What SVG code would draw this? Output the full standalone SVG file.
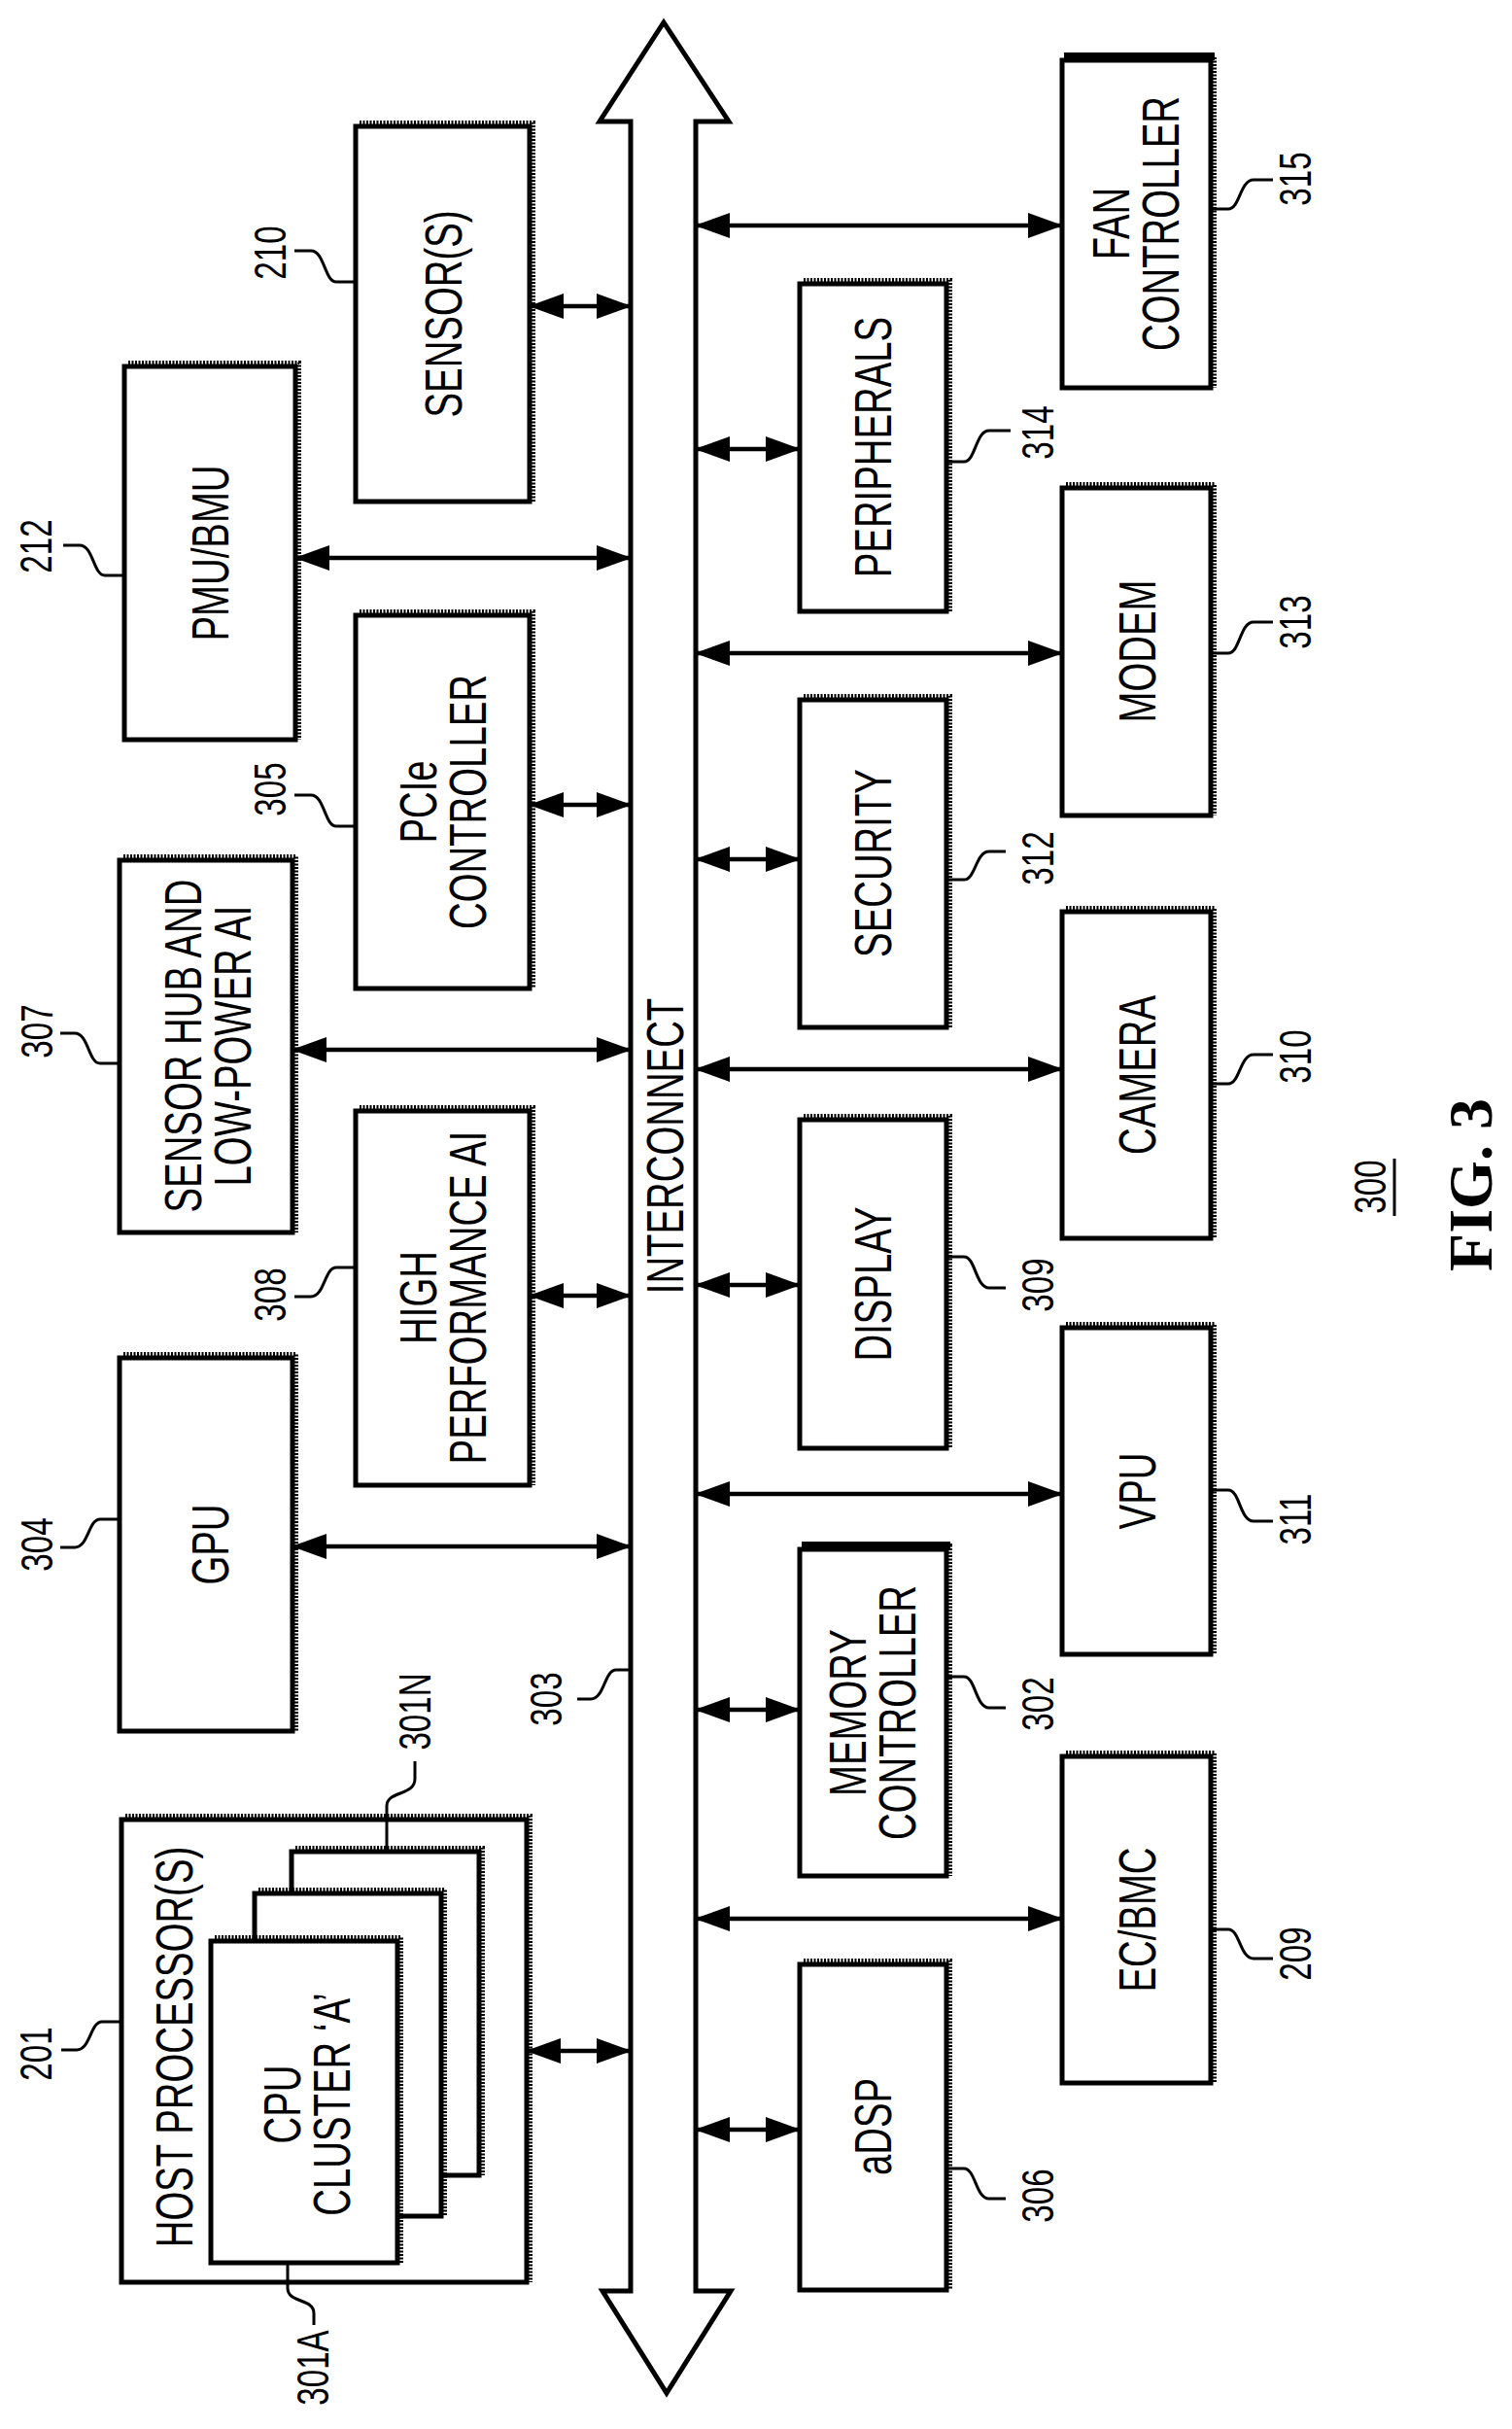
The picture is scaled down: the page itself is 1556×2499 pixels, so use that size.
<svg xmlns="http://www.w3.org/2000/svg" width="1556" height="2499" viewBox="0 0 1556 2499">
<style>
.b{fill:#fff;stroke:#000;stroke-width:5}
.sh{fill:none;stroke:#000;stroke-width:4;stroke-dasharray:2 1.5}
.t{font-family:"Liberation Sans",Arial,sans-serif;font-size:54px;text-anchor:middle;fill:#000}
.n{font-family:"Liberation Sans",Arial,sans-serif;font-size:46px;text-anchor:middle;fill:#000}
.l{fill:none;stroke:#000;stroke-width:3}
.c{fill:none;stroke:#000;stroke-width:4.5}
</style>
<defs>
<marker id="ah" markerUnits="userSpaceOnUse" markerWidth="36" markerHeight="26" refX="35" refY="13" orient="auto-start-reverse"><path d="M0,0 L36,13 L0,26 Z" fill="#000"/></marker>
</defs>
<rect width="1556" height="2499" fill="#fff"/>
<g id="interconnect">
<path d="M649,2357 L649,125 L617,125 L683,23 L750,125 L716,125 L716,2357 L752,2357 L686,2462 L620,2357 Z" fill="#fff" stroke="#000" stroke-width="5" stroke-linejoin="miter"/>
<text class="t" transform="translate(684,1179) rotate(-90) scale(0.71,1)" y="19">INTERCONNECT</text>
</g>
<g id="connectors">
<line class="c" x1="545" y1="315" x2="649" y2="315" marker-start="url(#ah)" marker-end="url(#ah)"/>
<line class="c" x1="304" y1="574" x2="649" y2="574" marker-start="url(#ah)" marker-end="url(#ah)"/>
<line class="c" x1="545" y1="828" x2="649" y2="828" marker-start="url(#ah)" marker-end="url(#ah)"/>
<line class="c" x1="301" y1="1080" x2="649" y2="1080" marker-start="url(#ah)" marker-end="url(#ah)"/>
<line class="c" x1="545" y1="1333" x2="649" y2="1333" marker-start="url(#ah)" marker-end="url(#ah)"/>
<line class="c" x1="301" y1="1591" x2="649" y2="1591" marker-start="url(#ah)" marker-end="url(#ah)"/>
<line class="c" x1="542" y1="2110" x2="649" y2="2110" marker-start="url(#ah)" marker-end="url(#ah)"/>
<line class="c" x1="716" y1="232" x2="1093" y2="232" marker-start="url(#ah)" marker-end="url(#ah)"/>
<line class="c" x1="716" y1="462" x2="823" y2="462" marker-start="url(#ah)" marker-end="url(#ah)"/>
<line class="c" x1="716" y1="672" x2="1093" y2="672" marker-start="url(#ah)" marker-end="url(#ah)"/>
<line class="c" x1="716" y1="884" x2="823" y2="884" marker-start="url(#ah)" marker-end="url(#ah)"/>
<line class="c" x1="716" y1="1100" x2="1093" y2="1100" marker-start="url(#ah)" marker-end="url(#ah)"/>
<line class="c" x1="716" y1="1322" x2="823" y2="1322" marker-start="url(#ah)" marker-end="url(#ah)"/>
<line class="c" x1="716" y1="1537" x2="1093" y2="1537" marker-start="url(#ah)" marker-end="url(#ah)"/>
<line class="c" x1="716" y1="1759" x2="823" y2="1759" marker-start="url(#ah)" marker-end="url(#ah)"/>
<line class="c" x1="716" y1="1974" x2="1093" y2="1974" marker-start="url(#ah)" marker-end="url(#ah)"/>
<line class="c" x1="716" y1="2191" x2="823" y2="2191" marker-start="url(#ah)" marker-end="url(#ah)"/>
</g>
<g id="n210">
<rect class="b" x="366" y="130" width="179" height="386"/><path class="sh" d="M370,126 H549 V516"/>
<text class="t" transform="translate(456,323) rotate(-90) scale(0.71,1)" y="19">SENSOR(S)</text>
<path class="l" d="M366,290 H346 C334,290 334,258 320,258 H303"/>
<text class="n" transform="translate(278,260) rotate(-90) scale(0.72,1)" y="16">210</text>
</g>
<g id="n212">
<rect class="b" x="128" y="377" width="176" height="384"/><path class="sh" d="M132,373 H308 V761"/>
<text class="t" transform="translate(216,569) rotate(-90) scale(0.71,1)" y="19">PMU/BMU</text>
<path class="l" d="M128,592 H108 C96,592 96,561 82,561 H65"/>
<text class="n" transform="translate(37,562) rotate(-90) scale(0.72,1)" y="16">212</text>
</g>
<g id="n305">
<rect class="b" x="366" y="633" width="179" height="384"/><path class="sh" d="M370,629 H549 V1017"/>
<text class="t" transform="translate(430,825) rotate(-90) scale(0.71,1)" y="19">PCIe</text>
<text class="t" transform="translate(481,825) rotate(-90) scale(0.71,1)" y="19">CONTROLLER</text>
<path class="l" d="M366,850 H346 C334,850 334,818 320,818 H303"/>
<text class="n" transform="translate(278,812) rotate(-90) scale(0.72,1)" y="16">305</text>
</g>
<g id="n307">
<rect class="b" x="123" y="885" width="178" height="383"/><path class="sh" d="M127,881 H305 V1268"/>
<text class="t" transform="translate(188,1076) rotate(-90) scale(0.71,1)" y="19">SENSOR HUB AND</text>
<text class="t" transform="translate(239,1076) rotate(-90) scale(0.71,1)" y="19">LOW-POWER AI</text>
<path class="l" d="M123,1094 H103 C91,1094 91,1063 77,1063 H62"/>
<text class="n" transform="translate(38,1061) rotate(-90) scale(0.72,1)" y="16">307</text>
</g>
<g id="n308">
<rect class="b" x="366" y="1143" width="179" height="385"/><path class="sh" d="M370,1139 H549 V1528"/>
<text class="t" transform="translate(430,1335) rotate(-90) scale(0.71,1)" y="19">HIGH</text>
<text class="t" transform="translate(481,1335) rotate(-90) scale(0.71,1)" y="19">PERFORMANCE AI</text>
<path class="l" d="M366,1304 H346 C334,1304 334,1334 320,1334 H303"/>
<text class="n" transform="translate(278,1332) rotate(-90) scale(0.72,1)" y="16">308</text>
</g>
<g id="n304">
<rect class="b" x="123" y="1397" width="178" height="384"/><path class="sh" d="M127,1393 H305 V1781"/>
<text class="t" transform="translate(216,1589) rotate(-90) scale(0.71,1)" y="19">GPU</text>
<path class="l" d="M123,1563 H103 C91,1563 91,1592 77,1592 H62"/>
<text class="n" transform="translate(38,1589) rotate(-90) scale(0.72,1)" y="16">304</text>
</g>
<g id="n201">
<rect class="b" x="125" y="1872" width="417" height="476"/><path class="sh" d="M129,1868 H546 V2348"/>
<text class="t" transform="translate(179,2106) rotate(-90) scale(0.71,1)" y="19">HOST PROCESSOR(S)</text>
<path class="l" d="M125,2080 H105 C93,2080 93,2109 79,2109 H63"/>
<text class="n" transform="translate(37,2113) rotate(-90) scale(0.72,1)" y="16">201</text>
</g>
<g id="n301N">
<rect class="b" x="300" y="1905" width="193" height="333"/><path class="sh" d="M304,1901 H497 V2238"/>
<path class="l" d="M398,1905 V1858 C398,1842 427,1848 427,1830 V1812"/>
<text class="n" transform="translate(427,1761) rotate(-90) scale(0.72,1)" y="16">301N</text>
</g>
<g id="n301B">
<rect class="b" x="262" y="1948" width="192" height="332"/><path class="sh" d="M266,1944 H458 V2280"/>
</g>
<g id="n301A">
<rect class="b" x="217" y="1997" width="192" height="331"/><path class="sh" d="M221,1993 H413 V2328"/>
<text class="t" transform="translate(290,2165) rotate(-90) scale(0.71,1)" y="19">CPU</text>
<text class="t" transform="translate(341,2165) rotate(-90) scale(0.71,1)" y="19">CLUSTER ‘A’</text>
<path class="l" d="M296,2328 V2354 C296,2370 323,2364 323,2380 V2392"/>
<text class="n" transform="translate(322,2436) rotate(-90) scale(0.72,1)" y="16">301A</text>
</g>
<g id="n303">
<path class="l" d="M649,1718 H634 C622,1718 622,1748 608,1748 H594"/>
<text class="n" transform="translate(562,1748) rotate(-90) scale(0.72,1)" y="16">303</text>
</g>
<g id="n315">
<rect class="b" x="1093" y="62" width="153" height="337"/><path class="sh" d="M1097,58 H1250 V399"/><line x1="1095" y1="58" x2="1250" y2="58" stroke="#000" stroke-width="8"/>
<text class="t" transform="translate(1143,230) rotate(-90) scale(0.71,1)" y="19">FAN</text>
<text class="t" transform="translate(1194,230) rotate(-90) scale(0.71,1)" y="19">CONTROLLER</text>
<path class="l" d="M1246,215 H1264 C1276,215 1276,185 1290,185 H1310"/>
<text class="n" transform="translate(1333,184) rotate(-90) scale(0.72,1)" y="16">315</text>
</g>
<g id="n314">
<rect class="b" x="823" y="292" width="151" height="337"/><path class="sh" d="M827,288 H978 V629"/>
<text class="t" transform="translate(898,460) rotate(-90) scale(0.71,1)" y="19">PERIPHERALS</text>
<path class="l" d="M974,475 H992 C1004,475 1004,443 1018,443 H1040"/>
<text class="n" transform="translate(1068,445) rotate(-90) scale(0.72,1)" y="16">314</text>
</g>
<g id="n313">
<rect class="b" x="1093" y="502" width="153" height="337"/><path class="sh" d="M1097,498 H1250 V839"/>
<text class="t" transform="translate(1170,670) rotate(-90) scale(0.71,1)" y="19">MODEM</text>
<path class="l" d="M1246,672 H1264 C1276,672 1276,640 1290,640 H1310"/>
<text class="n" transform="translate(1333,640) rotate(-90) scale(0.72,1)" y="16">313</text>
</g>
<g id="n312">
<rect class="b" x="823" y="720" width="151" height="337"/><path class="sh" d="M827,716 H978 V1057"/>
<text class="t" transform="translate(898,888) rotate(-90) scale(0.71,1)" y="19">SECURITY</text>
<path class="l" d="M974,905 H992 C1004,905 1004,876 1018,876 H1035"/>
<text class="n" transform="translate(1068,883) rotate(-90) scale(0.72,1)" y="16">312</text>
</g>
<g id="n310">
<rect class="b" x="1093" y="938" width="153" height="336"/><path class="sh" d="M1097,934 H1250 V1274"/>
<text class="t" transform="translate(1170,1106) rotate(-90) scale(0.71,1)" y="19">CAMERA</text>
<path class="l" d="M1246,1115 H1264 C1276,1115 1276,1085 1290,1085 H1310"/>
<text class="n" transform="translate(1333,1087) rotate(-90) scale(0.72,1)" y="16">310</text>
</g>
<g id="n309">
<rect class="b" x="823" y="1152" width="151" height="338"/><path class="sh" d="M827,1148 H978 V1490"/>
<text class="t" transform="translate(898,1321) rotate(-90) scale(0.71,1)" y="19">DISPLAY</text>
<path class="l" d="M974,1293 H992 C1004,1293 1004,1325 1018,1325 H1035"/>
<text class="n" transform="translate(1068,1322) rotate(-90) scale(0.72,1)" y="16">309</text>
</g>
<g id="n311">
<rect class="b" x="1093" y="1366" width="153" height="336"/><path class="sh" d="M1097,1362 H1250 V1702"/>
<text class="t" transform="translate(1170,1534) rotate(-90) scale(0.71,1)" y="19">VPU</text>
<path class="l" d="M1246,1533 H1264 C1276,1533 1276,1565 1290,1565 H1310"/>
<text class="n" transform="translate(1333,1563) rotate(-90) scale(0.72,1)" y="16">311</text>
</g>
<g id="n302">
<rect class="b" x="823" y="1594" width="151" height="336"/><path class="sh" d="M827,1590 H978 V1930"/><line x1="825" y1="1590" x2="978" y2="1590" stroke="#000" stroke-width="8"/>
<text class="t" transform="translate(872,1762) rotate(-90) scale(0.71,1)" y="19">MEMORY</text>
<text class="t" transform="translate(923,1762) rotate(-90) scale(0.71,1)" y="19">CONTROLLER</text>
<path class="l" d="M974,1725 H992 C1004,1725 1004,1757 1018,1757 H1035"/>
<text class="n" transform="translate(1068,1753) rotate(-90) scale(0.72,1)" y="16">302</text>
</g>
<g id="n209">
<rect class="b" x="1093" y="1807" width="153" height="336"/><path class="sh" d="M1097,1803 H1250 V2143"/>
<text class="t" transform="translate(1170,1975) rotate(-90) scale(0.71,1)" y="19">EC/BMC</text>
<path class="l" d="M1246,1985 H1264 C1276,1985 1276,2015 1290,2015 H1310"/>
<text class="n" transform="translate(1333,2010) rotate(-90) scale(0.72,1)" y="16">209</text>
</g>
<g id="n306">
<rect class="b" x="823" y="2021" width="151" height="335"/><path class="sh" d="M827,2017 H978 V2356"/>
<text class="t" transform="translate(898,2188) rotate(-90) scale(0.71,1)" y="19">aDSP</text>
<path class="l" d="M974,2231 H992 C1004,2231 1004,2262 1018,2262 H1035"/>
<text class="n" transform="translate(1068,2259) rotate(-90) scale(0.72,1)" y="16">306</text>
</g>
<g id="caption">
<text class="n" transform="translate(1410,1221) rotate(-90) scale(0.72,1)" y="16">300</text>
<line x1="1435" y1="1192" x2="1435" y2="1251" stroke="#000" stroke-width="3"/>
<text transform="translate(1513,1219) rotate(-90)" y="22" font-family="'Liberation Serif','Times New Roman',serif" font-weight="bold" font-size="64" text-anchor="middle">FIG. 3</text>
</g>
</svg>
